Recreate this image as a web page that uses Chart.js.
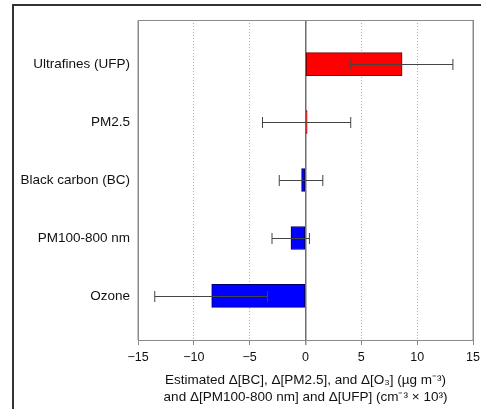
<!DOCTYPE html>
<html>
<head>
<meta charset="utf-8">
<script src="https://cdn.jsdelivr.net/npm/chart.js@4/dist/chart.umd.min.js"></script>
<style>
html,body{margin:0;padding:0;background:#fff;}
#wrap{width:481px;height:409px;position:relative;}
</style>
</head>
<body>
<div id="wrap"><canvas id="c" width="481" height="409"></canvas></div>
<script>
const categories = ["Ultrafines (UFP)", "PM2.5", "Black carbon (BC)", "PM100-800 nm", "Ozone"];
const estimates = [8.65, 0.15, -0.35, -1.3, -8.4];
const ciLow = [4.05, -3.85, -2.35, -3.0, -13.5];
const ciHigh = [13.2, 4.05, 1.55, 0.35, -3.4];
const xTicks = [-15, -10, -5, 0, 5, 10, 15];

const fontFam = '"Liberation Sans", Arial, Helvetica, sans-serif';

const frame = {
  id: 'frame',
  beforeDraw(chart) {
    const ctx = chart.ctx;
    ctx.save();
    ctx.fillStyle = '#fff';
    ctx.fillRect(0, 0, chart.width, chart.height);
    ctx.strokeStyle = '#333';
    ctx.lineWidth = 2;
    ctx.strokeRect(13, 5, 520, 520);
    ctx.restore();
  },
  afterDraw(chart) {
    const ctx = chart.ctx, a = chart.chartArea;
    ctx.save();
    ctx.strokeStyle = '#8a8a8a';
    ctx.lineWidth = 1;
    ctx.beginPath();
    ctx.moveTo(a.left, a.bottom);
    ctx.lineTo(a.left, a.top + 0.5);
    ctx.lineTo(a.right, a.top + 0.5);
    ctx.lineTo(a.right, a.bottom);
    ctx.stroke();
    ctx.restore();
  }
};

const errorBars = {
  id: 'errorBars',
  afterDatasetsDraw(chart) {
    const ctx = chart.ctx, xs = chart.scales.x, ys = chart.scales.y;
    ctx.save();
    ctx.strokeStyle = '#444';
    ctx.lineWidth = 1;
    categories.forEach((c, i) => {
      const y = Math.round(ys.getPixelForValue(i)) + 0.5;
      const x1 = xs.getPixelForValue(ciLow[i]);
      const x2 = xs.getPixelForValue(ciHigh[i]);
      ctx.beginPath();
      ctx.moveTo(x1, y); ctx.lineTo(x2, y);
      ctx.moveTo(x1, y - 5.5); ctx.lineTo(x1, y + 5.5);
      ctx.moveTo(x2, y - 5.5); ctx.lineTo(x2, y + 5.5);
      ctx.stroke();
    });
    ctx.restore();
  }
};

new Chart(document.getElementById('c'), {
  type: 'bar',
  data: {
    datasets: [{
      data: categories.map((c, i) => ({x: estimates[i], y: i})),
      backgroundColor: estimates.map(v => v >= 0 ? '#ff0000' : '#0000ff'),
      borderColor: estimates.map(v => v >= 0 ? '#7a0000' : '#00006a'),
      borderWidth: 1,
      borderSkipped: false,
      barThickness: 23
    }]
  },
  options: {
    indexAxis: 'y',
    responsive: false,
    animation: false,
    layout: {padding: {left: 0, right: 0, top: 20, bottom: 0}},
    plugins: {legend: {display: false}, tooltip: {enabled: false}},
    scales: {
      x: {
        type: 'linear',
        min: -15, max: 15,
        afterBuildTicks: s => { s.ticks = xTicks.map(v => ({value: v})); },
        afterFit: s => { s.height = 69; s.paddingRight = 8; s.paddingLeft = 0; },
        grid: {
          color: ctx => (ctx.tick && ctx.tick.value === 0) ? '#6e6e6e' : (ctx.tick && Math.abs(ctx.tick.value) === 15 ? '#8a8a8a' : '#b0b0b0'),
          lineWidth: ctx => (ctx.tick && ctx.tick.value === 0) ? 1.5 : 1,
          tickColor: '#8a8a8a',
          tickLength: 5,
          drawTicks: true
        },
        border: {
          display: true,
          color: '#8a8a8a',
          width: 1,
          dash: ctx => (ctx.tick && ctx.tick.value !== 0 && Math.abs(ctx.tick.value) !== 15) ? [1, 2] : []
        },
        ticks: {
          color: '#111',
          font: {family: fontFam, size: 12.5},
          padding: 5,
          callback: v => v < 0 ? '\u2212' + Math.abs(v) : String(v)
        },
        title: {
          display: true,
          text: ['Estimated \u0394[BC], \u0394[PM2.5], and \u0394[O\u2083] (\u00b5g m\u207b\u00b3)',
                 'and \u0394[PM100-800 nm] and \u0394[UFP] (cm\u207b\u00b3 \u00d7 10\u00b3)'],
          color: '#111',
          font: {family: fontFam, size: 13.5, lineHeight: 1.2},
          padding: {top: 0, bottom: 4}
        }
      },
      y: {
        type: 'linear',
        reverse: true,
        offset: false,
        min: -0.76, max: 4.76,
        afterBuildTicks: s => { s.ticks = categories.map((c, i) => ({value: i})); },
        afterFit: s => { s.width = 138; },
        grid: {display: false, drawTicks: false, offset: false},
        border: {display: true, color: '#8a8a8a', width: 1},
        ticks: {
          color: '#111',
          font: {family: fontFam, size: 13.5},
          padding: 8,
          callback: v => categories[v]
        }
      }
    }
  },
  plugins: [frame, errorBars]
});
</script>
</body>
</html>
